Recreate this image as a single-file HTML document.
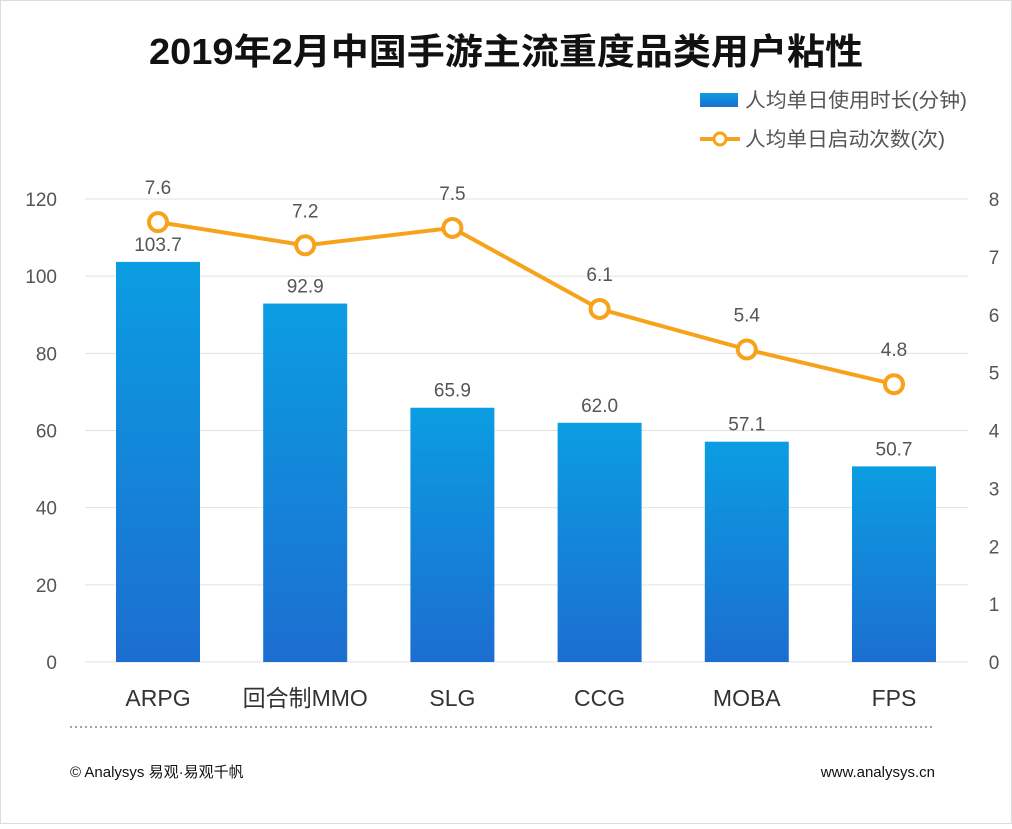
<!DOCTYPE html>
<html><head><meta charset="utf-8">
<style>
body{margin:0;width:1012px;height:824px;background:#fff;overflow:hidden;font-family:"Liberation Sans","Noto Sans CJK SC",sans-serif;}
svg text{font-family:"Liberation Sans","Noto Sans CJK SC",sans-serif;}
</style></head><body>
<svg id="c" width="1012" height="824">
<defs><linearGradient id="g" x1="0" y1="0" x2="0" y2="1"><stop offset="0" stop-color="#0b9de2"/><stop offset="1" stop-color="#1c6ed0"/></linearGradient></defs>
<rect x="0.5" y="0.5" width="1011" height="823" fill="#fff" stroke="#ddd"/>
<text x="506" y="64" text-anchor="middle" font-size="36" font-weight="bold" fill="#111" textLength="714" lengthAdjust="spacingAndGlyphs">2019年2月中国手游主流重度品类用户粘性</text>
<rect x="700" y="93" width="38" height="14" fill="url(#g)"/>
<text x="745" y="107" font-size="20" fill="#555" textLength="222" lengthAdjust="spacingAndGlyphs">人均单日使用时长(分钟)</text>
<line x1="700" y1="139" x2="740" y2="139" stroke="#f7a21b" stroke-width="4"/>
<circle cx="720" cy="139" r="6" fill="#fff" stroke="#f7a21b" stroke-width="3"/>
<text x="745" y="146" font-size="20" fill="#555" textLength="200" lengthAdjust="spacingAndGlyphs">人均单日启动次数(次)</text>
<g id="grid"></g><g id="bars"></g><g id="line"></g><g id="axes"></g>
<line x1="70" y1="727" x2="935" y2="727" stroke="#444" stroke-dasharray="2,3"/>
<text x="70" y="777" font-size="15" fill="#111">© Analysys 易观·易观千帆</text>
<text x="935" y="777" font-size="15" fill="#111" text-anchor="end">www.analysys.cn</text>
</svg>
<script>
const categories=["ARPG","回合制MMO","SLG","CCG","MOBA","FPS"];
const minutes=[103.7,92.9,65.9,62.0,57.1,50.7];
const launches=[7.6,7.2,7.5,6.1,5.4,4.8];
const leftTicks=[0,20,40,60,80,100,120];
const rightTicks=[0,1,2,3,4,5,6,7,8];
const NS="http://www.w3.org/2000/svg";
const y0=662,y1=199;
const yL=v=>y0-(v/120)*(y0-y1);
const yR=v=>y0-(v/8)*(y0-y1);
const xC=i=>158+i*147.2;
function mk(p,tag,at,txt){const e=document.createElementNS(NS,tag);for(const k in at)e.setAttribute(k,at[k]);if(txt!==undefined)e.textContent=txt;document.getElementById(p).appendChild(e);return e;}
leftTicks.forEach(t=>{
 const l=mk('grid','line',{x1:85,x2:968,y1:yL(t),y2:yL(t),stroke:'#e2e2e2','stroke-width':1});
 
 
 const tx=mk('axes','text',{x:57,y:yL(t)+7,'text-anchor':'end','font-size':19,fill:'#555'},t);
 
 
});
rightTicks.forEach(t=>{
 const tx=mk('axes','text',{x:994,y:yR(t)+7,'text-anchor':'middle','font-size':19,fill:'#555'},t);
 
 
});
categories.forEach((c,i)=>{
 const b=mk('bars','rect',{x:xC(i)-42,y:yL(minutes[i]),width:84,height:y0-yL(minutes[i]),fill:'url(#g)'});
 
 
 const v=mk('bars','text',{x:xC(i),y:yL(minutes[i])-11,'text-anchor':'middle','font-size':19,fill:'#555'},minutes[i].toFixed(1));
 
 
 const xl=mk('axes','text',{x:xC(i),y:706,'text-anchor':'middle','font-size':23,fill:'#333'},c);
 
 
});
const pl=mk('line','polyline',{points:launches.map((v,i)=>xC(i)+','+yR(v)).join(' '),fill:'none',stroke:'#f7a21b','stroke-width':4});


launches.forEach((v,i)=>{
 const p=mk('line','circle',{cx:xC(i),cy:yR(v),r:9,fill:'#fff',stroke:'#f7a21b','stroke-width':4});
 
 
 const t=mk('line','text',{x:xC(i),y:yR(v)-28,'text-anchor':'middle','font-size':19,fill:'#555'},v.toFixed(1));
 
 
});
</script>
</body></html>
